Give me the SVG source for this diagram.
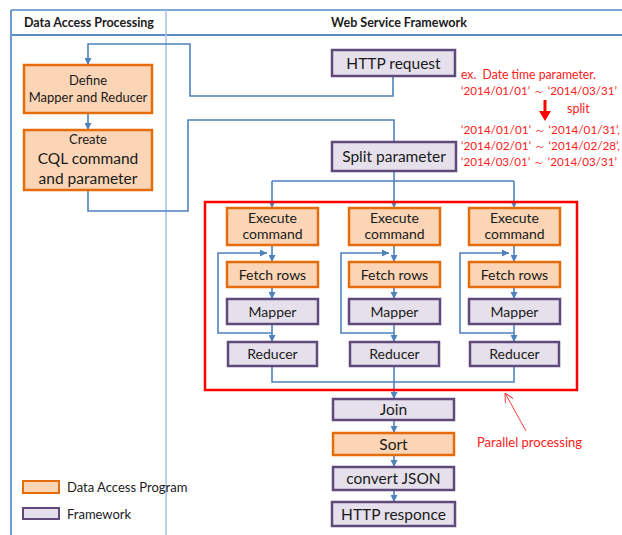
<svg xmlns="http://www.w3.org/2000/svg" width="622" height="535" viewBox="0 0 622 535">
<defs>
<marker id="ah" viewBox="0 0 10 10" refX="10" refY="5" markerWidth="7" markerHeight="7" markerUnits="userSpaceOnUse" orient="auto">
<path d="M0,0 L10,5 L0,10 z" fill="#4f81bd"/>
</marker>
<marker id="ahr" viewBox="0 0 10 10" refX="10" refY="5" markerWidth="9" markerHeight="9" markerUnits="userSpaceOnUse" orient="auto">
<path d="M0,0 L10,5 L0,10" fill="none" stroke="#ff4040" stroke-width="1.2"/>
</marker>
<style>
text{font-family:Lato,"Liberation Sans",sans-serif;fill:#1a1a1a;text-anchor:middle}
.o{fill:#fbd5b5;stroke:#e46c0a;stroke-width:2.5}
.p{fill:#e5e0ec;stroke:#604a7b;stroke-width:2.5}
.c{fill:none;stroke:#4f81bd;stroke-width:1.6}
.ca{fill:none;stroke:#4f81bd;stroke-width:1.6;marker-end:url(#ah)}
.red{fill:#ff2020;text-anchor:start;font-size:12.5px;white-space:pre}
.dt{font-size:11px}
.hd{font-weight:bold;font-size:12.5px}
.s13{font-size:13px}
.s14{font-size:14px}
.s15{font-size:15.5px}
</style>
</defs>
<rect width="622" height="535" fill="#fff"/>
<g id="frame" fill="none">
<line x1="11" y1="10" x2="622" y2="10" stroke="#7ea6d6" stroke-width="2"/>
<line x1="11" y1="35" x2="622" y2="35" stroke="#5b8ac6" stroke-width="2.2"/>
<line x1="11" y1="10" x2="11" y2="535" stroke="#6f99cf" stroke-width="2"/>
<line x1="166" y1="10" x2="166" y2="535" stroke="#a9c4e6" stroke-width="1.6"/>
<text class="hd" x="89" y="27">Data Access Processing</text>
<text class="hd" x="399" y="27">Web Service Framework</text>
</g>
<g id="connectors">
<path class="ca" d="M393,76 V96 H190 V44 H88 V65"/>
<path class="ca" d="M88,113 V130"/>
<path class="c" d="M88,190 V211 H188 V120 H394 V142"/>
<path class="c" d="M394,171 V181 M272,181 H514"/>
<path class="ca" d="M272,181 V208"/>
<path class="ca" d="M394,181 V208"/>
<path class="ca" d="M514,181 V208"/>
<path class="ca" d="M272,245 V262"/>
<path class="ca" d="M394,245 V262"/>
<path class="ca" d="M514,245 V262"/>
<path class="ca" d="M272,287 V299"/>
<path class="ca" d="M394,287 V299"/>
<path class="ca" d="M514,287 V299"/>
<path class="ca" d="M272,324 V342"/>
<path class="ca" d="M394,324 V342"/>
<path class="ca" d="M514,324 V342"/>
<path class="ca" d="M272,333 H218 V253 H267"/>
<path class="ca" d="M394,333 H341 V253 H389"/>
<path class="ca" d="M514,333 H460 V253 H509"/>
<path class="c" d="M272,366 V382 H514 V366 M394,366 V382"/>
<path class="ca" d="M394,382 V399"/>
<path class="ca" d="M394,420 V433"/>
<path class="ca" d="M394,455 V467"/>
<path class="ca" d="M394,490 V502"/>
</g>
<g id="parallel-box">
<rect x="205" y="202" width="372" height="188" fill="none" stroke="#ff0000" stroke-width="2.5"/>
</g>
<g id="http-request"><rect class="p" x="332" y="50" width="123" height="26"/><text class="s15" x="393.5" y="68.5">HTTP request</text></g>
<g id="define"><rect class="o" x="24" y="65" width="128" height="48"/><text class="s13" x="88" y="85">Define</text><text class="s13" x="88" y="102">Mapper and Reducer</text></g>
<g id="create"><rect class="o" x="24" y="130" width="128" height="60"/><text class="s13" x="88" y="144">Create</text><text class="s15" x="88" y="164">CQL command</text><text class="s15" x="88" y="184">and parameter</text></g>
<g id="split"><rect class="p" x="332" y="142" width="124" height="29"/><text class="s15" x="394" y="162">Split parameter</text></g>
<g id="exec1"><rect class="o" x="227" y="208" width="91" height="37"/><text class="s14" x="272.5" y="222.5">Execute</text><text class="s14" x="272.5" y="239">command</text></g>
<g id="exec2"><rect class="o" x="349" y="208" width="91" height="37"/><text class="s14" x="394.5" y="222.5">Execute</text><text class="s14" x="394.5" y="239">command</text></g>
<g id="exec3"><rect class="o" x="469" y="208" width="91" height="37"/><text class="s14" x="514.5" y="222.5">Execute</text><text class="s14" x="514.5" y="239">command</text></g>
<g id="fetch1"><rect class="o" x="227" y="262" width="91" height="25"/><text class="s14" x="272.5" y="279.5">Fetch rows</text></g>
<g id="fetch2"><rect class="o" x="349" y="262" width="91" height="25"/><text class="s14" x="394.5" y="279.5">Fetch rows</text></g>
<g id="fetch3"><rect class="o" x="469" y="262" width="91" height="25"/><text class="s14" x="514.5" y="279.5">Fetch rows</text></g>
<g id="mapper1"><rect class="p" x="227" y="299" width="91" height="25"/><text class="s14" x="272.5" y="316.5">Mapper</text></g>
<g id="mapper2"><rect class="p" x="349" y="299" width="91" height="25"/><text class="s14" x="394.5" y="316.5">Mapper</text></g>
<g id="mapper3"><rect class="p" x="469" y="299" width="91" height="25"/><text class="s14" x="514.5" y="316.5">Mapper</text></g>
<g id="reducer1"><rect class="p" x="228" y="342" width="89" height="24"/><text class="s14" x="272.5" y="359">Reducer</text></g>
<g id="reducer2"><rect class="p" x="350" y="342" width="89" height="24"/><text class="s14" x="394.5" y="359">Reducer</text></g>
<g id="reducer3"><rect class="p" x="470" y="342" width="89" height="24"/><text class="s14" x="514.5" y="359">Reducer</text></g>
<g id="join"><rect class="p" x="333" y="399" width="121" height="21"/><text class="s15" x="393.5" y="415">Join</text></g>
<g id="sort"><rect class="o" x="333" y="433" width="121" height="22"/><text class="s15" x="393.5" y="449.5">Sort</text></g>
<g id="convert"><rect class="p" x="333" y="467" width="121" height="23"/><text class="s15" x="393.5" y="484">convert JSON</text></g>
<g id="http-responce"><rect class="p" x="332" y="502" width="123" height="24"/><text class="s15" x="393.5" y="519.5">HTTP responce</text></g>
<g id="annotation">
<text class="red" x="461" y="79" textLength="135" lengthAdjust="spacingAndGlyphs">ex.  Date time parameter.</text>
<text class="red dt" x="461" y="95" textLength="156" lengthAdjust="spacingAndGlyphs">‘2014/01/01’ ～ ‘2014/03/31’</text>
<path d="M545,100 V114" stroke="#ff0000" stroke-width="3" fill="none"/>
<path d="M539,111 L545,121 L551,111 z" fill="#ff0000"/>
<text class="red" x="567" y="113">split</text>
<text class="red dt" x="461" y="134" textLength="159" lengthAdjust="spacingAndGlyphs">‘2014/01/01’ ～ ‘2014/01/31’,</text>
<text class="red dt" x="461" y="150" textLength="159" lengthAdjust="spacingAndGlyphs">‘2014/02/01’ ～ ‘2014/02/28’,</text>
<text class="red dt" x="461" y="166" textLength="156" lengthAdjust="spacingAndGlyphs">‘2014/03/01’ ～ ‘2014/03/31’</text>
</g>
<g id="parallel-label">
<path d="M526,431 L505,393" fill="none" stroke="#ff4040" stroke-width="1" marker-end="url(#ahr)"/>
<text class="red" x="477" y="447" style="font-size:13px">Parallel processing</text>
</g>
<g id="legend">
<rect class="o" x="23" y="481" width="36" height="12" style="stroke-width:2"/>
<text x="67" y="492" style="text-anchor:start;font-size:13px">Data Access Program</text>
<rect class="p" x="23" y="508" width="36" height="11" style="stroke-width:2"/>
<text x="67" y="518.5" style="text-anchor:start;font-size:13px">Framework</text>
</g>
</svg>
